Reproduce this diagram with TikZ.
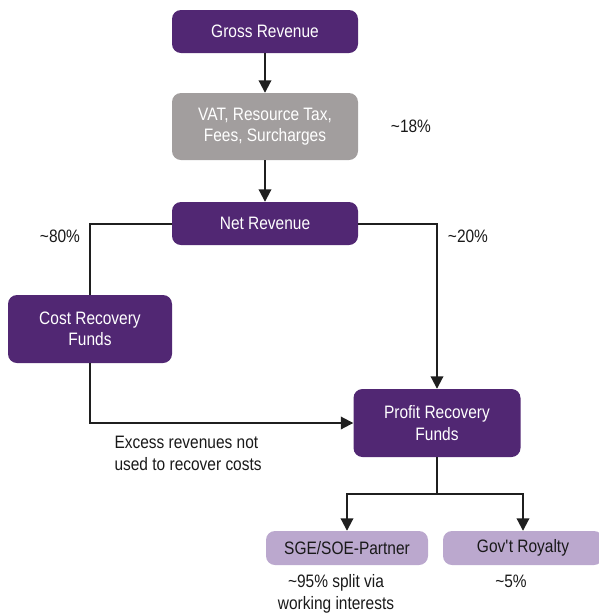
\documentclass[tikz,border=0pt]{standalone}
\usepackage{fontspec}
\setmainfont[FakeStretch=0.86]{Liberation Sans}
\usetikzlibrary{arrows.meta}
\definecolor{dpurple}{HTML}{512773}
\definecolor{tgrey}{HTML}{A29E9E}
\definecolor{lpurple}{HTML}{BBA8CE}
\begin{document}
\begin{tikzpicture}[x=1pt,y=-1pt,
  box/.style={rounded corners=9pt, inner sep=0pt, align=center, font=\fontsize{18}{21.5}\selectfont},
  dbox/.style={box, fill=dpurple, text=white},
  gbox/.style={box, fill=tgrey, text=white},
  lbox/.style={box, fill=lpurple, text=black!90},
  lbl/.style={font=\fontsize{18}{21.5}\selectfont, text=black!90, align=center},
  conn/.style={line width=2pt, draw=black!88},
  arr/.style={conn, -{Triangle[length=12.5pt,width=12.5pt]}}]
\useasboundingbox (0,0) rectangle (598,614);
\node[dbox, minimum width=186pt, minimum height=43pt] (gross) at (265,31.5) {Gross Revenue};
\node[gbox, minimum width=186pt, minimum height=67pt] (vat) at (265,126.5) {VAT, Resource Tax,\\Fees, Surcharges};
\node[lbl] (p18) at (411,126) {\textasciitilde18\%};
\node[dbox, minimum width=186pt, minimum height=43pt] (net) at (265,223.5) {Net Revenue};
\node[lbl] (p80) at (60,236) {\textasciitilde80\%};
\node[lbl] (p20) at (468,236) {\textasciitilde20\%};
\node[dbox, minimum width=164pt, minimum height=68pt] (cost) at (90,329) {Cost Recovery\\Funds};
\node[dbox, minimum width=167pt, minimum height=68pt] (profit) at (437,423) {Profit Recovery\\Funds};
\node[lbl, align=left, anchor=north west] (excess) at (111,433) {Excess revenues not\\used to recover costs};
\node[lbox, minimum width=162pt, minimum height=34pt] (sge) at (347,548) {SGE/SOE-Partner};
\node[lbox, minimum width=160pt, minimum height=34pt] (roy) at (523,548) {Gov\textquotesingle t Royalty};
\node[lbl, anchor=north] (p95) at (336,571) {\textasciitilde95\% split via\\working interests};
\node[lbl, anchor=north] (p5) at (511,571) {\textasciitilde5\%};
\coordinate (split) at (437,494);
\draw[arr] (gross) -- (vat);
\draw[arr] (vat) -- (net);
\draw[conn] (net.west) -| (cost.north);
\draw[arr] (net.east) -| (profit.north);
\draw[arr] (cost.south) |- (profit.west);
\draw[conn] (profit.south) -- (split);
\draw[arr] (split) -| (sge.north);
\draw[arr] (split) -| (roy.north);
\end{tikzpicture}
\end{document}
